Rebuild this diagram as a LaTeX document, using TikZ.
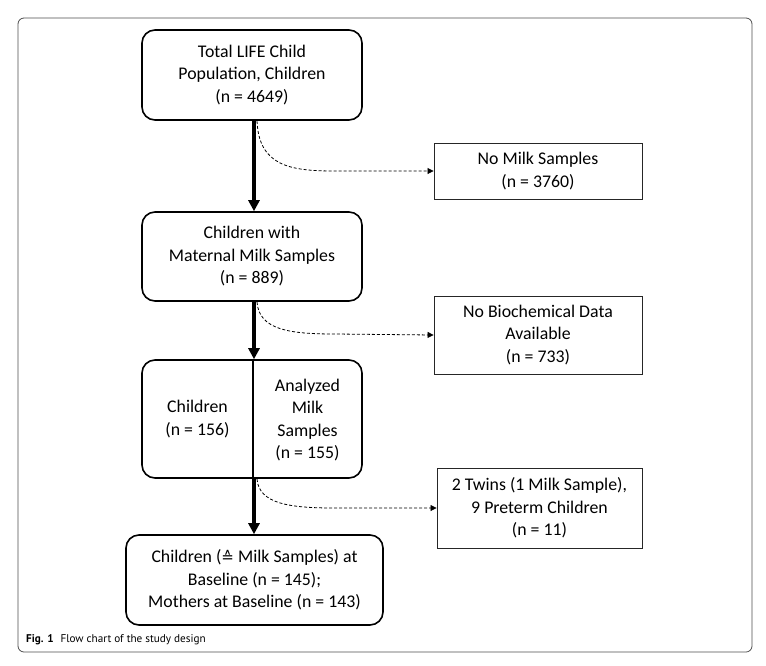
\documentclass[tikz,border=0pt]{standalone}
\usepackage{fontspec}
\setmainfont{Carlito}
\newfontfamily\capfont{PT Sans}
\newfontfamily\symfont{DejaVu Sans}
\usetikzlibrary{arrows.meta}
\begin{document}
\begin{tikzpicture}[x=1pt,y=-1pt,
  rbox/.style={draw=black,line width=1.6pt,rounded corners=13pt,inner sep=0pt,
    align=center,font=\fontsize{17.8}{22.5}\selectfont},
  sbox/.style={draw=black!85,line width=0.9pt,inner sep=0pt,
    align=center,font=\fontsize{17.8}{22.5}\selectfont},
  thick arrow/.style={line width=3.2pt,-{Triangle[length=11pt,width=11pt]}},
  dash arrow/.style={densely dashed,line width=0.8pt,-{Triangle[length=6pt,width=6pt]}},
  txt/.style={inner sep=0pt,align=center,font=\fontsize{17.8}{22.5}\selectfont}]
\useasboundingbox (0,0) rectangle (766,665);
% outer frame
\draw[black!70,line width=0.8pt,rounded corners=6pt] (18,18) rectangle (752,652);
% boxes
\node[rbox,minimum width=220pt,minimum height=90pt] (A) at (252,75)
  {Total LIFE Child\\Population, Children\\(n = 4649)};
\node[sbox,minimum width=208pt,minimum height=56pt] (B) at (538,171)
  {No Milk Samples\\(n = 3760)};
\node[rbox,minimum width=220pt,minimum height=89pt] (C) at (252,256.5)
  {Children with\\Maternal Milk Samples\\(n = 889)};
\node[sbox,minimum width=208pt,minimum height=78pt] (D) at (538,335)
  {No Biochemical Data\\Available\\(n = 733)};
\node[rbox,minimum width=220pt,minimum height=118pt] (E) at (252,419) {};
\node[txt] (E1) at (197.5,419) {Children\\(n = 156)};
\node[txt] (E2) at (307.5,420) {Analyzed\\Milk\\Samples\\(n = 155)};
\coordinate (Et) at (253,360);
\coordinate (Eb) at (253,478);
\draw[line width=1.1pt] (Et) -- (Eb);
\node[sbox,minimum width=205pt,minimum height=80pt] (F) at (539.5,508)
  {2 Twins (1 Milk Sample),\\9 Preterm Children\\(n = 11)};
\node[rbox,minimum width=257pt,minimum height=90pt] (G) at (254.5,580)
  {Children ({\symfont\fontsize{15}{15}\selectfont ≙} Milk Samples) at\\Baseline (n = 145);\\Mothers at Baseline (n = 143)};
% thick arrows
\draw[thick arrow] (A.south -| 254,0) -- (C.north -| 254,0);
\draw[thick arrow] (C.south -| 254,0) -- (E.north -| 254,0);
\draw[thick arrow] (E.south -| 254,0) -- (G.north -| 254,0);
% dashed side arrows
\coordinate (s1) at (257,121);
\coordinate (s2) at (257,302);
\coordinate (s3) at (257,479);
\draw[dash arrow] (s1) .. controls (259,166) and (290,171) .. (335,171) -- (B.west);
\draw[dash arrow] (s2) .. controls (259,330) and (290,334) .. (335,334) -- (D.west);
\draw[dash arrow] (s3) .. controls (259,504) and (290,508) .. (335,508) -- (F.west);
% caption
\node[anchor=base west,inner sep=0pt,font=\capfont\fontsize{11.2}{12}\selectfont] (cap) at (26,642)
  {\textbf{Fig. 1}\hspace{0.6em}Flow chart of the study design};
\end{tikzpicture}
\end{document}
